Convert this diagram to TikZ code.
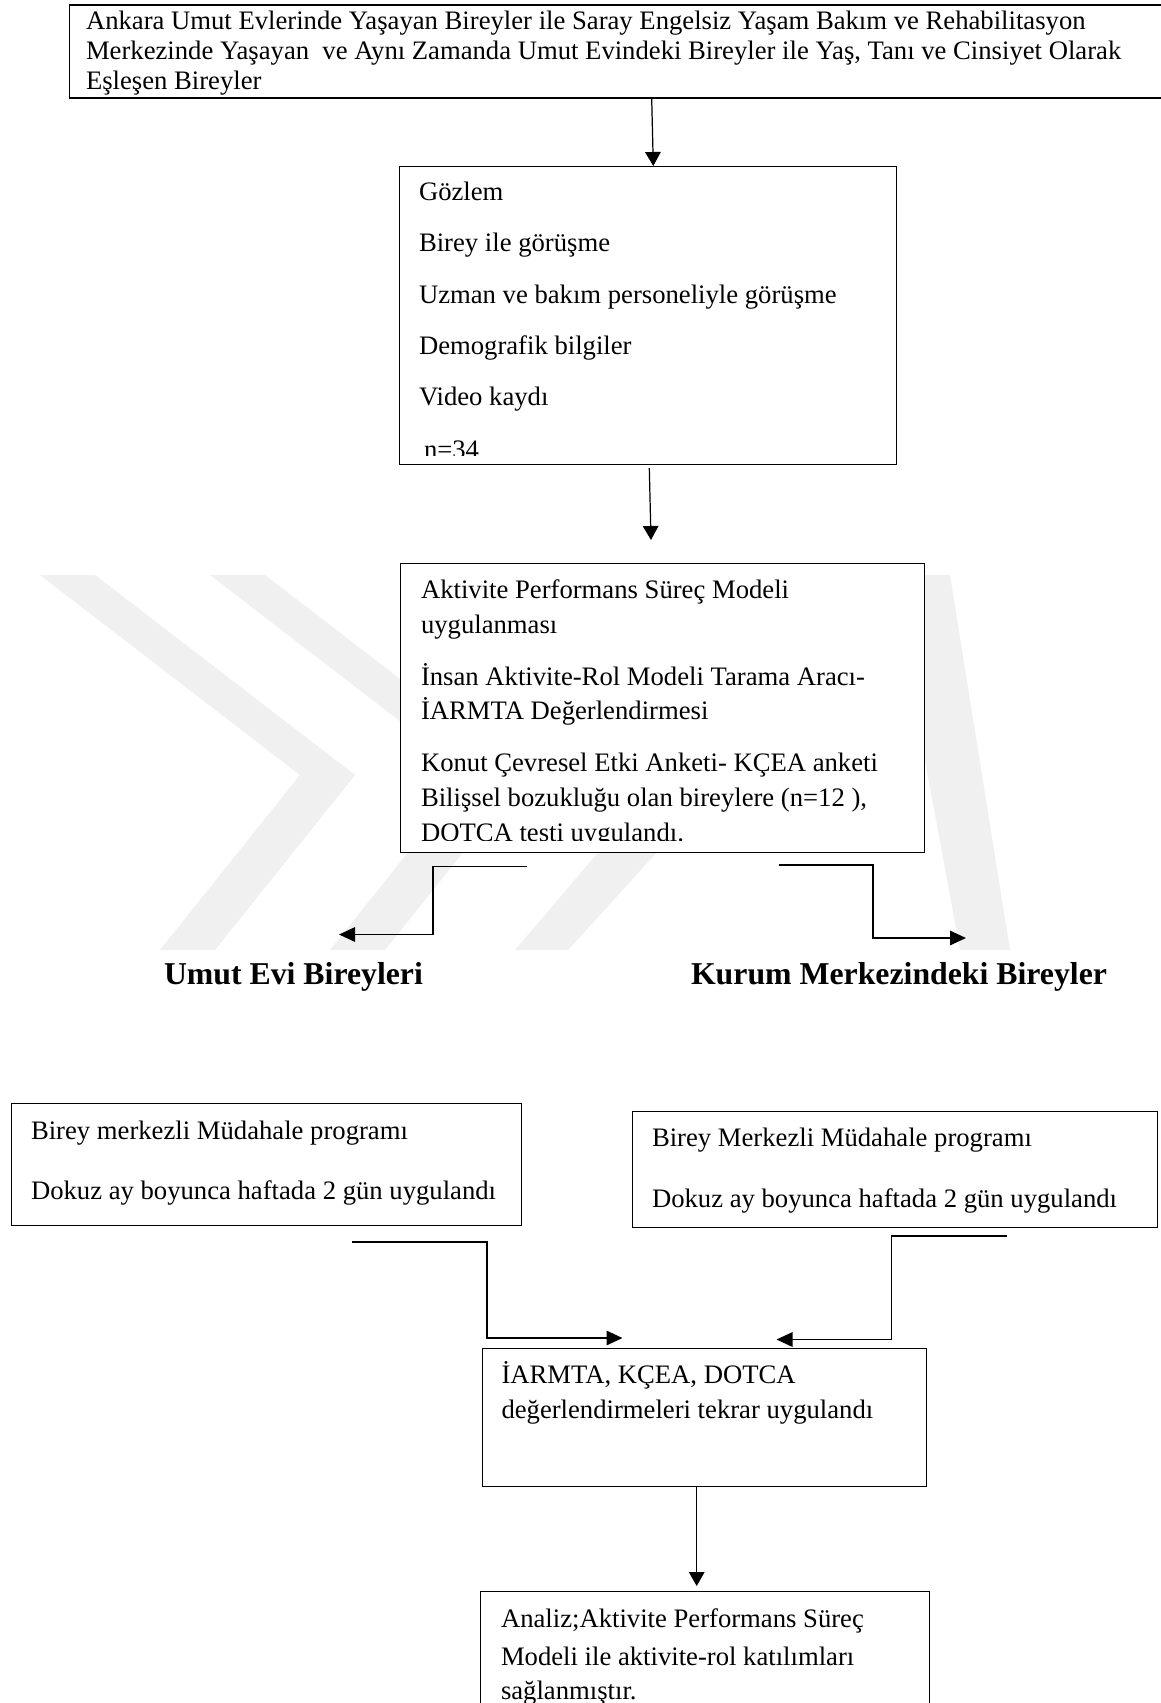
\documentclass[tikz,border=0pt]{standalone}
\usepackage{fontspec}
\setmainfont{Liberation Serif}
\usetikzlibrary{arrows.meta}
\tikzset{
  pbox/.style={draw=black, line width=0.6pt, fill=white, inner sep=0pt, anchor=north west},
  tline/.style={anchor=base west, inner sep=0pt, outer sep=0pt, font=\fontsize{12}{14}\selectfont},
  biglabel/.style={anchor=base west, inner sep=0pt, outer sep=0pt, font=\fontsize{14.3}{17}\selectfont\bfseries},
  downarrow/.style={line width=0.55pt, -{Triangle[length=6.3pt,width=7pt]}},
  elbow/.style={line width=0.77pt, -{Triangle[length=7.2pt,width=6.5pt]}},
  wm/.style={fill=black!6, draw=none}
}
\newcommand\pxbox[6][]{\node[pbox,#1,minimum width=#5*0.45pt,minimum height=#6*0.45pt] (#2) at (#3,#4) {};}
\begin{document}
\begin{tikzpicture}[x=0.45pt,y=-0.45pt]
\useasboundingbox (0,0) rectangle (1161,1703);
\clip (0,0) rectangle (1161,1703);
\fill[white] (0,0) rectangle (1161,1703);
% faint watermark
\fill[wm] (40,575) -- (95,575) -- (355,775) -- (215,950) -- (160,950) -- (300,775) -- cycle;
\fill[wm] (210,575) -- (265,575) -- (525,775) -- (385,950) -- (330,950) -- (470,775) -- cycle;
\fill[wm] (515,950) -- (835,575) -- (950,575) -- (1010,950) -- (960,950) -- (894,592) -- (568,950) -- cycle;

% boxes
\pxbox[line width=0.8pt]{top}{68.7}{4}{1120}{93}
\pxbox{obs}{399}{166}{497}{298}
\pxbox{apm}{400}{563}{524}{289}
\pxbox{progL}{10.5}{1103}{510}{122}
\pxbox{progR}{631.5}{1111}{525.5}{116}
\pxbox{reapp}{481.7}{1348}{444.3}{138}
\pxbox{anal}{480}{1591}{449}{140}

% top box text
\node[tline] (t1) at (86,29.5) {Ankara Umut Evlerinde Yaşayan Bireyler ile Saray Engelsiz Yaşam Bakım ve Rehabilitasyon};
\node[tline] (t2) at (86,60) {Merkezinde Yaşayan\ \ ve Aynı Zamanda Umut Evindeki Bireyler ile Yaş, Tanı ve Cinsiyet Olarak};
\node[tline] (t3) at (86,90) {Eşleşen Bireyler};

% observation box
\node[tline] (o1) at (419,201) {Gözlem};
\node[tline] (o2) at (419,252) {Birey ile görüşme};
\node[tline] (o3) at (419,303.5) {Uzman ve bakım personeliyle görüşme};
\node[tline] (o4) at (419,354.5) {Demografik bilgiler};
\node[tline] (o5) at (419,405.5) {Video kaydı};
\begin{scope}
\clip (399,166) rectangle (896,455);
\node[tline] (o6) at (424,458) {n=34};
\end{scope}

% APM box
\node[tline] (p1) at (421,598) {Aktivite Performans Süreç Modeli};
\node[tline] (p2) at (421,633.5) {uygulanması};
\node[tline] (p3) at (421,685) {İnsan Aktivite-Rol Modeli Tarama Aracı-};
\node[tline] (p4) at (421,719.5) {İARMTA Değerlendirmesi};
\node[tline] (p5) at (421,771) {Konut Çevresel Etki Anketi- KÇEA anketi};
\node[tline] (p6) at (421,806) {Bilişsel bozukluğu olan bireylere (n=12 ),};
\begin{scope}
\clip (400,563) rectangle (924,840);
\node[tline] (p7) at (421,841) {DOTCA testi uygulandı.};
\end{scope}

% group labels
\node[biglabel] (lblL) at (164,984) {Umut Evi Bireyleri};
\node[biglabel] (lblR) at (691,984) {Kurum Merkezindeki Bireyler};

% programme boxes
\node[tline] (l1) at (31,1139) {Birey merkezli Müdahale programı};
\node[tline] (l2) at (31,1199.5) {Dokuz ay boyunca haftada 2 gün uygulandı};
\node[tline] (r1) at (652,1146) {Birey Merkezli Müdahale programı};
\node[tline] (r2) at (652,1207.5) {Dokuz ay boyunca haftada 2 gün uygulandı};

% re-application box
\node[tline] (e1) at (501.5,1383.5) {İARMTA, KÇEA, DOTCA};
\node[tline] (e2) at (501.5,1418) {değerlendirmeleri tekrar uygulandı};

% analysis box
\node[tline] (a1) at (501,1627.5) {Analiz;Aktivite Performans Süreç};
\node[tline] (a2) at (501,1665) {Modeli ile aktivite-rol katılımları};
\node[tline] (a3) at (501,1699.5) {sağlanmıştır.};

% connectors
\coordinate (c1a) at (651.7,99);
\coordinate (c1b) at (653.3,166);
\draw[downarrow] (c1a) -- (c1b);
\coordinate (c2a) at (649.3,468);
\coordinate (c2b) at (651,540);
\draw[downarrow] (c2a) -- (c2b);

\coordinate (sLa) at (527,866.5);
\coordinate (sLb) at (339,934.5);
\draw[elbow] (sLa) -- (433,866.5) -- (433,934.5) -- (sLb);
\coordinate (sRa) at (779,865);
\coordinate (sRb) at (966,938);
\draw[elbow] (sRa) -- (873,865) -- (873,938) -- (sRb);

\coordinate (mLa) at (351.7,1242);
\coordinate (mLb) at (622.5,1338);
\draw[elbow] (mLa) -- (487,1242) -- (487,1338) -- (mLb);
\coordinate (mRa) at (1007,1236);
\coordinate (mRb) at (776.5,1339.5);
\draw[elbow] (mRa) -- (891.5,1236) -- (891.5,1339.5) -- (mRb);

\coordinate (fa) at (696.7,1487);
\coordinate (fb) at (696.7,1586);
\draw[downarrow] (fa) -- (fb);
\end{tikzpicture}
\end{document}
